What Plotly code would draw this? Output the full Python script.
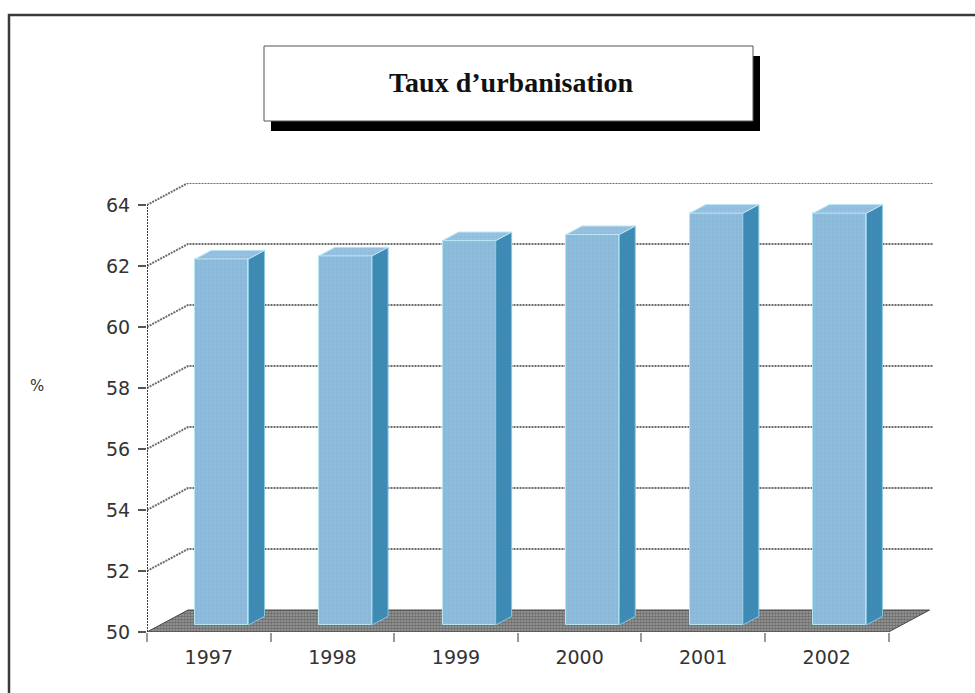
import plotly.graph_objects as go

# ---- data -------------------------------------------------------------
years = ["1997", "1998", "1999", "2000", "2001", "2002"]
taux = [62.0, 62.1, 62.6, 62.8, 63.5, 63.5]
y_ticks = [50, 52, 54, 56, 58, 60, 62, 64]
title_text = "Taux d’urbanisation"
y_title = "%"

# ---- geometry of the pseudo-3D chart (axis units) ------------------------
Y_MIN, Y_MAX = 50, 64
DX, DY = 0.332, 0.72          # oblique offset of the back wall
FRONT, BACK = 0.32, 0.71      # depth span of the columns (fraction of the floor depth)
BAR_W = 0.43
N = len(years)
X_RANGE = [0, 6.36]
Y_RANGE = [Y_MIN, Y_MAX + DY]

W, H = 975, 693
M = dict(l=147, r=42, t=183, b=61)
PW = W - M["l"] - M["r"]
PH = H - M["t"] - M["b"]


def px(x):
    return (x - M["l"]) / PW


def py(y):
    return (H - M["b"] - y) / PH


fig = go.Figure()

# back wall grid lines with their diagonal connectors to the front axis
gx, gy = [], []
for v in y_ticks[1:]:
    gx += [0, DX, X_RANGE[1], None]
    gy += [v, v + DY, v + DY, None]
fig.add_trace(go.Scatter(x=gx, y=gy, mode="lines", hoverinfo="skip",
                         line=dict(color="#6c6c6c", width=2, dash="2px,1px")))

# floor
fig.add_trace(go.Scatter(
    x=[0, N, N + DX, DX, 0], y=[Y_MIN, Y_MIN, Y_MIN + DY, Y_MIN + DY, Y_MIN],
    mode="lines", fill="toself", fillcolor="#8a8a8a", hoverinfo="skip",
    line=dict(color="#444444", width=1),
    fillpattern=dict(shape=".", fgcolor="#3c3c3c", bgcolor="#9c9c9c",
                     size=3, solidity=0.6)))

# front value axis line
fig.add_trace(go.Scatter(x=[0, 0], y=[Y_MIN, Y_MAX], mode="lines", hoverinfo="skip",
                         line=dict(color="#3c3c3c", width=2, dash="2px,1px")))

# ---- columns (overlay subplot so they sit above the floor) ---------------
base = Y_MIN + FRONT * DY
centers = [i + 0.5 + FRONT * DX for i in range(N)]
heights = [v - Y_MIN for v in taux]

fig.add_trace(go.Bar(
    x=centers, y=heights, base=base, width=BAR_W,
    xaxis="x2", yaxis="y2", hovertext=[f"{y}: {v}%" for y, v in zip(years, taux)],
    hoverinfo="text",
    marker=dict(color="#8dbcdb", line=dict(color="#b6e6f0", width=1),
                pattern=dict(shape=".", fgcolor="#a0a2d8", bgcolor="#88c0dc",
                             size=4, solidity=0.4))))

d = BACK - FRONT
sx, sy, tx, ty = [], [], [], []
for c, v in zip(centers, taux):
    xl, xr = c - BAR_W / 2, c + BAR_W / 2
    top = v + FRONT * DY
    sx += [xr, xr + d * DX, xr + d * DX, xr, xr, None]
    sy += [base, base + d * DY, top + d * DY, top, base, None]
    tx += [xl, xr, xr + d * DX, xl + d * DX, xl, None]
    ty += [top, top, top + d * DY, top + d * DY, top, None]

fig.add_trace(go.Scatter(
    x=sx, y=sy, xaxis="x2", yaxis="y2", mode="lines", fill="toself",
    fillcolor="#3f8db5", hoverinfo="skip", line=dict(color="#8cc8e0", width=1),
    fillpattern=dict(shape=".", fgcolor="#3a9ea0", bgcolor="#3f84bc",
                     size=3, solidity=0.5)))
fig.add_trace(go.Scatter(
    x=tx, y=ty, xaxis="x2", yaxis="y2", mode="lines", fill="toself",
    fillcolor="#96c6e2", hoverinfo="skip", line=dict(color="#b8e8f4", width=1),
    fillpattern=dict(shape=".", fgcolor="#a8aadc", bgcolor="#90c4e0",
                     size=4, solidity=0.4)))

tick_font = dict(family="DejaVu Sans", size=19, color="#333333")

fig.update_layout(
    width=W, height=H, margin=M, showlegend=False,
    paper_bgcolor="white", plot_bgcolor="rgba(0,0,0,0)",
    bargap=0,
    xaxis=dict(range=X_RANGE, tickmode="array",
               tickvals=[i + 0.5 for i in range(N)], ticktext=years,
               ticks="", showgrid=False, zeroline=False, showline=False,
               tickfont=tick_font, ticklabelstandoff=12, fixedrange=True,
               minor=dict(tickmode="array", tickvals=list(range(N + 1)),
                          ticks="outside", ticklen=9, tickwidth=2,
                          tickcolor="#9a9a9a", showgrid=False)),
    yaxis=dict(range=Y_RANGE, tickmode="array", tickvals=y_ticks,
               ticks="outside", ticklen=8, tickwidth=2, tickcolor="#555555",
               showgrid=False, zeroline=False, showline=False,
               tickfont=tick_font, ticklabelstandoff=4, fixedrange=True),
    xaxis2=dict(range=X_RANGE, overlaying="x", visible=False, fixedrange=True),
    yaxis2=dict(range=Y_RANGE, overlaying="y", visible=False, fixedrange=True),
)

# outer chart frame
fig.add_shape(type="rect", xref="paper", yref="paper", layer="below",
              x0=px(9), y0=py(H + 30), x1=px(W + 30), y1=py(15),
              line=dict(color="#3a3a3a", width=2.5))

# title box with drop shadow
fig.add_shape(type="rect", xref="paper", yref="paper",
              x0=px(271), y0=py(131), x1=px(760), y1=py(56),
              fillcolor="black", line=dict(width=0))
fig.add_shape(type="rect", xref="paper", yref="paper",
              x0=px(264), y0=py(121), x1=px(753), y1=py(46),
              fillcolor="white", line=dict(color="#555555", width=1))
fig.add_annotation(xref="paper", yref="paper", x=px(511), y=py(83),
                   xanchor="center", yanchor="middle",
                   text=f"<b>{title_text}</b>", showarrow=False,
                   font=dict(family="Liberation Serif", size=28, color="#111111"))

fig.add_annotation(xref="paper", yref="paper", x=px(37), y=py(386),
                   xanchor="center", yanchor="middle",
                   text=y_title, showarrow=False,
                   font=dict(family="DejaVu Sans", size=15, color="#333333"))

fig.write_html("out.html")
